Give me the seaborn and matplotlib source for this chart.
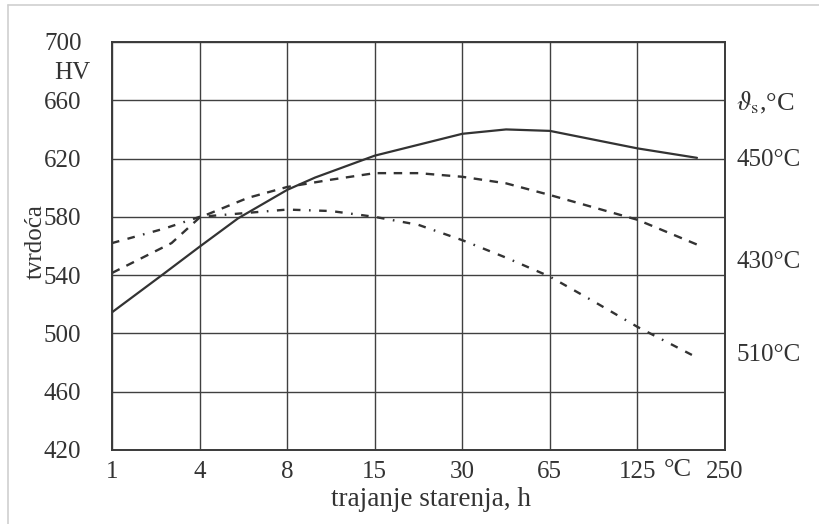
import pandas as pd
import seaborn as sns
import matplotlib.pyplot as plt
from matplotlib.lines import Line2D

# x ticks are evenly spaced categories (aging time, h)
vrijeme = ['1', '4', '8', '15', '30', '65', '125', '250']
tvrdoca_ticks = [420, 460, 500, 540, 580, 620, 660, 700]

# positions are in grid-step units along the x axis (0 = "1", 7 = "250")
poz_450 = [0, 0.57, 1, 1.44, 2, 2.32, 3, 4, 4.5, 5, 5.5, 6, 6.68]
hv_450 = [514.5, 540, 559.5, 579, 598.5, 607, 622, 637, 640, 639, 633, 627, 620.5]

poz_430 = [0, 0.68, 1, 1.55, 2, 2.5, 3, 3.5, 4, 4.5, 5, 6, 6.74]
hv_430 = [541.5, 562, 579.5, 593, 600.5, 605.5, 610, 610, 607.5, 603, 595, 578, 559.5]

poz_510 = [0, 0.6, 1, 2, 2.5, 3, 3.5, 4, 4.5, 5, 5.5, 6, 6.63]
hv_510 = [562, 572, 580, 585, 584, 580, 574.5, 564, 552, 539, 522, 504.5, 485]

sns.set_theme(style='white', rc={'axes.edgecolor': '#3a3a3a'})
plt.rcParams['font.family'] = ['Liberation Serif', 'DejaVu Serif']
plt.rcParams['mathtext.fontset'] = 'stix'

ink = '#333333'
fs = 18
fig = plt.figure(figsize=(8.2, 5.24), dpi=100)
ax = fig.add_axes([112 / 820, 1 - 450 / 524, 613 / 820, 408 / 524])

serije = [
    (poz_450, hv_450, 1.6, None),
    (poz_430, hv_430, 1.7, (3.6, 3.2)),
    (poz_510, hv_510, 1.7, (3.2, 3.6, 3.2, 3.6, 0.7, 3.6)),
]
for poz, hv, lw, crtkano in serije:
    df = pd.DataFrame({'poz': poz, 'hv': hv})
    sns.lineplot(data=df, x='poz', y='hv', ax=ax, color=ink, lw=lw,
                 sort=False, legend=False)
    if crtkano is not None:
        ax.lines[-1].set_dashes(crtkano)

ax.set_xlim(0, 7)
ax.set_ylim(420, 700)
ax.set_xticks(range(len(vrijeme)))
ax.set_xticklabels(vrijeme)
ax.set_yticks(tvrdoca_ticks)
ax.grid(True, color='#404040', lw=1.0)
for s in ax.spines.values():
    s.set_linewidth(1.4)
ax.tick_params(length=0, labelsize=fs, labelcolor=ink)
ax.tick_params(axis='y', pad=22)
ax.tick_params(axis='x', pad=8)

ax.set_xlabel('trajanje starenja, h', fontsize=19.5, color=ink)
ax.xaxis.set_label_coords(0.52, -0.09)
ax.set_ylabel('tvrdoća', fontsize=fs, color=ink)
ax.yaxis.set_label_coords(-0.106, 0.51)

fig.text(72 / 820, 1 - 73 / 524, 'HV', fontsize=fs, color=ink,
         ha='center', va='center')

# labels of the curves on the right
ax.text(7.13, 658, r'$\vartheta_{\mathrm{s}}$,°C', fontsize=19, color=ink,
        va='center', clip_on=False)
for y, t in [(619, '450°C'), (549, '430°C'), (485, '510°C')]:
    ax.text(7.13, y, t, fontsize=fs, color=ink, va='center', clip_on=False)
ax.text(6.46, 406, '°C', fontsize=19, color=ink, ha='center', va='center',
        clip_on=False)

# light frame of the scanned page
fig.add_artist(Line2D([8 / 820, 1], [1 - 5 / 524] * 2, color='#cfcfcf', lw=1.2))
fig.add_artist(Line2D([8 / 820] * 2, [0, 1 - 5 / 524], color='#cfcfcf', lw=1.2))

fig.savefig('out.png', dpi=100)
